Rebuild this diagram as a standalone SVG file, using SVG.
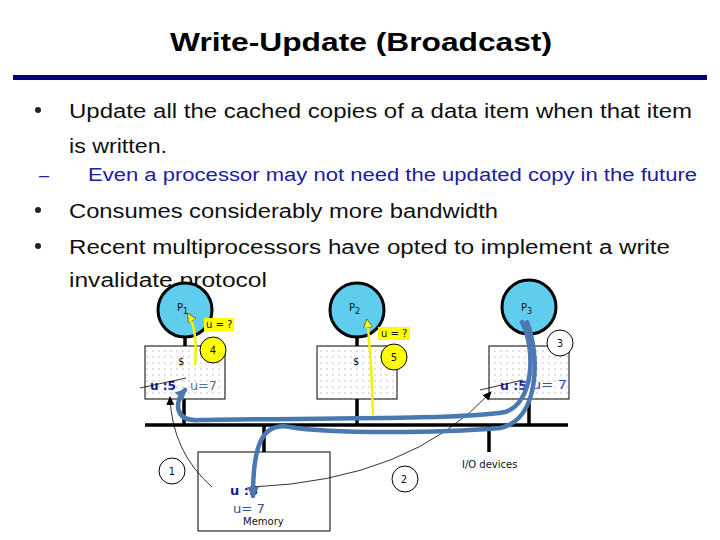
<svg xmlns="http://www.w3.org/2000/svg" width="720" height="540" viewBox="0 0 720 540">
<style>
.body{font-family:"Liberation Sans",Arial,sans-serif;font-size:20px;fill:#111}
.sub{font-family:"Liberation Sans",Arial,sans-serif;font-size:18px;fill:#2020a0}
.lbl{font-family:"DejaVu Sans",Verdana,sans-serif;font-size:10px;fill:#111}
.val{font-family:"DejaVu Sans",Verdana,sans-serif;font-size:13px}
.proc{fill:#5ecdee;stroke:#000;stroke-width:3}
.cache{fill:url(#dots);stroke:#000;stroke-width:1}
.wire{stroke:#000;stroke-width:3.5;fill:none}
.num{fill:#fff;stroke:#000;stroke-width:1}
.ynum{fill:#ffff00;stroke:#000;stroke-width:1}
.blue{fill:none;stroke:#4a78b0;stroke-width:4.5;stroke-linecap:round}
.thin{fill:none;stroke:#000;stroke-width:0.8}
.yel{fill:none;stroke:#f2f200;stroke-width:2.5}
</style>
<defs>
<pattern id="dots" width="6" height="6" patternUnits="userSpaceOnUse">
<rect width="6" height="6" fill="#fff"/>
<rect x="2.5" y="2.5" width="1" height="1" fill="#8a8a8a"/>
</pattern>
<marker id="ab" markerUnits="userSpaceOnUse" markerWidth="14" markerHeight="14" refX="9" refY="6" orient="auto">
<path d="M0,0 L11,6 L0,12 Z" fill="#4a78b0"/>
</marker>
<marker id="ak" markerUnits="userSpaceOnUse" markerWidth="10" markerHeight="10" refX="8" refY="4" orient="auto">
<path d="M0,0 L9,4 L0,8 Z" fill="#000"/>
</marker>
<marker id="ay" markerUnits="userSpaceOnUse" markerWidth="12" markerHeight="12" refX="8" refY="4.5" orient="auto">
<path d="M0,0 L9,4.5 L0,9 Z" fill="#ffff00" stroke="#333" stroke-width="0.6"/>
</marker>
</defs>
<rect width="720" height="540" fill="#fff"/>

<g id="title">
<text x="361" y="51" text-anchor="middle" font-family="Liberation Sans, Arial, sans-serif" font-weight="bold" font-size="25" textLength="382" lengthAdjust="spacingAndGlyphs" fill="#000">Write-Update (Broadcast)</text>
<rect x="13" y="75" width="694" height="5" fill="#000080"/>
</g>

<g id="bullets">
<circle cx="38" cy="110" r="3" fill="#222"/>
<circle cx="38" cy="210" r="3" fill="#222"/>
<circle cx="38" cy="246" r="3" fill="#222"/>
<text class="body" x="69" y="118" textLength="623" lengthAdjust="spacingAndGlyphs">Update all the cached copies of a data item when that item</text>
<text class="body" x="69" y="153" textLength="98" lengthAdjust="spacingAndGlyphs">is written.</text>
<text class="sub" x="39" y="181" fill="#222">–</text>
<text class="sub" x="88" y="181" textLength="609" lengthAdjust="spacingAndGlyphs">Even a processor may not need the updated copy in the future</text>
<text class="body" x="69" y="218" textLength="429" lengthAdjust="spacingAndGlyphs">Consumes considerably more bandwidth</text>
<text class="body" x="69" y="254" textLength="601" lengthAdjust="spacingAndGlyphs">Recent multiprocessors have opted to implement a write</text>
<text class="body" x="69" y="287" textLength="198" lengthAdjust="spacingAndGlyphs">invalidate protocol</text>
</g>

<g id="bus">
<line class="wire" x1="145" y1="425" x2="568" y2="425"/>
<line class="wire" x1="184" y1="399" x2="184" y2="425"/>
<line class="wire" x1="357" y1="399" x2="357" y2="425"/>
<line class="wire" x1="529" y1="399" x2="529" y2="425"/>
<line class="wire" x1="264" y1="425" x2="264" y2="452"/>
<line class="wire" x1="489" y1="425" x2="489" y2="452"/>
<line class="wire" x1="185" y1="333" x2="185" y2="346"/>
<line class="wire" x1="357" y1="333" x2="357" y2="346"/>
<line class="wire" x1="529" y1="331" x2="529" y2="346"/>
</g>

<g id="p1">
<circle class="proc" cx="185" cy="310" r="27"/>
<text class="lbl" x="177" y="311">P<tspan font-size="8" dy="3">1</tspan></text>
</g>
<g id="p2">
<circle class="proc" cx="357" cy="310" r="27"/>
<text class="lbl" x="349" y="311">P<tspan font-size="8" dy="3">2</tspan></text>
</g>
<g id="p3">
<circle class="proc" cx="529" cy="307" r="27"/>
<text class="lbl" x="521" y="311">P<tspan font-size="8" dy="3">3</tspan></text>
</g>

<g id="cache1">
<rect class="cache" x="145" y="346" width="80" height="53"/>
<text class="lbl" x="178" y="365" font-size="11">$</text>
<text class="val" x="150" y="390" fill="#1a1a8c" font-weight="bold" textLength="26" lengthAdjust="spacingAndGlyphs">u :5</text>
<text class="val" x="190" y="390" fill="#5a7090" textLength="27" lengthAdjust="spacingAndGlyphs">u=7</text>
</g>
<g id="cache2">
<rect class="cache" x="317" y="346" width="80" height="53"/>
<text class="lbl" x="353" y="365" font-size="11">$</text>
</g>
<g id="cache3">
<rect class="cache" x="489" y="346" width="80" height="53"/>
<text class="val" x="500" y="390" fill="#2a2a9a" font-weight="bold" textLength="27" lengthAdjust="spacingAndGlyphs">u :5</text>
<text class="val" x="532" y="389" fill="#2f4fb0" font-size="14" textLength="35" lengthAdjust="spacingAndGlyphs">u= 7</text>
</g>

<g id="memory">
<rect x="198" y="452" width="132" height="79" fill="#fff" stroke="#000" stroke-width="1"/>
<text class="val" x="230" y="495" fill="#1a1a8c" font-weight="bold" textLength="28" lengthAdjust="spacingAndGlyphs">u :5</text>
<text class="val" x="233" y="513" fill="#3050a8" textLength="32" lengthAdjust="spacingAndGlyphs">u= 7</text>
<text class="lbl" x="243" y="525" font-size="10">Memory</text>
</g>
<g id="io">
<text class="lbl" x="462" y="468">I/O devices</text>
</g>

<g id="connectors">
<path class="thin" d="M140,388 L186,378"/>
<path class="thin" d="M480,390 L523,380"/>
<path class="thin" d="M212,487 Q172,452 170,397" marker-end="url(#ak)"/>
<path class="thin" d="M253,487 Q410,480 491,392" marker-end="url(#ak)"/>
<path class="yel" d="M195,365 Q198,330 188,314" marker-end="url(#ay)"/>
<path class="yel" d="M373,415 Q371,350 367,320" marker-end="url(#ay)"/>
<path class="blue" d="M522,322 C536,350 534,403 505,412 C460,420 300,418 200,420 C174,422 174,402 185,390" marker-end="url(#ab)"/>
<path class="blue" d="M527,322 C540,355 540,420 500,428 C440,433 330,434 290,427 C262,422 253,445 253,496" marker-end="url(#ab)"/>
</g>

<g id="markers-labels">
<rect x="204" y="318" width="30" height="13" fill="#ffff00"/>
<text class="lbl" x="206" y="328">u = ?</text>
<rect x="378" y="327" width="32" height="13" fill="#ffff00"/>
<text class="lbl" x="381" y="337">u = ?</text>
<circle class="ynum" cx="213" cy="350" r="13"/>
<text class="lbl" x="213" y="354" text-anchor="middle">4</text>
<circle class="ynum" cx="394" cy="357" r="13"/>
<text class="lbl" x="394" y="361" text-anchor="middle">5</text>
<circle class="num" cx="560" cy="343" r="13"/>
<text class="lbl" x="560" y="347" text-anchor="middle">3</text>
<circle class="num" cx="172" cy="471" r="13"/>
<text class="lbl" x="172" y="475" text-anchor="middle">1</text>
<circle class="num" cx="405" cy="479" r="13"/>
<text class="lbl" x="404" y="483" text-anchor="middle">2</text>
</g>
</svg>
